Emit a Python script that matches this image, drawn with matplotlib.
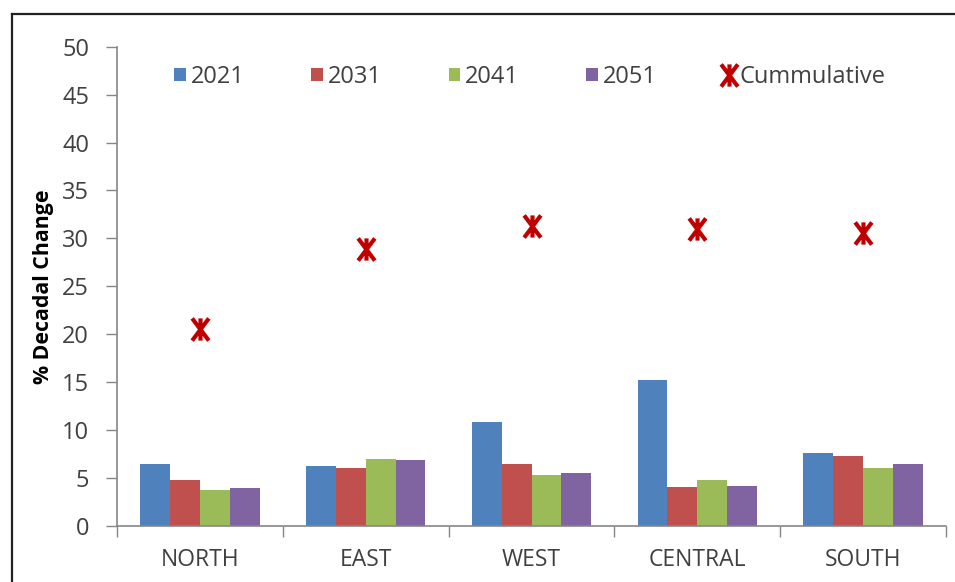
import matplotlib
matplotlib.use("Agg")
import matplotlib.pyplot as plt
import numpy as np
from matplotlib.path import Path
from matplotlib.lines import Line2D

regions = ["NORTH", "EAST", "WEST", "CENTRAL", "SOUTH"]
years = ["2021", "2031", "2041", "2051"]
v2021 = [6.5, 6.3, 10.9, 15.2, 7.6]
v2031 = [4.8, 6.0, 6.5, 4.1, 7.3]
v2041 = [3.8, 7.0, 5.3, 4.8, 6.1]
v2051 = [4.0, 6.9, 5.5, 4.2, 6.5]
cumulative = [20.6, 28.9, 31.3, 31.0, 30.6]
yticks = [0, 5, 10, 15, 20, 25, 30, 35, 40, 45, 50]

colors = ["#4F81BD", "#C0504D", "#9BBB59", "#8064A2"]
star_color = "#C00000"
font = "Open Sans"
text_color = "#404040"
axis_color = "#868686"

# asterisk-style marker: an X crossed by a vertical stroke
star = Path(
    [(-0.75, -1), (0.75, 1), (-0.75, 1), (0.75, -1), (0, -1), (0, 1)],
    [Path.MOVETO, Path.LINETO, Path.MOVETO, Path.LINETO, Path.MOVETO, Path.LINETO],
)

W, H = 955, 582
fig = plt.figure(figsize=(W / 100, H / 100), dpi=100)
ax = fig.add_axes([117 / W, 56 / H, (946 - 117) / W, (526 - 46.7) / H])

x = np.arange(len(regions))
bw = 0.18
series = [v2021, v2031, v2041, v2051]
handles = []
for i, (vals, c, lab) in enumerate(zip(series, colors, years)):
    handles.append(ax.bar(x + (i - 1.5) * bw, vals, width=bw, color=c, label=lab, zorder=2))

line, = ax.plot(x, cumulative, linestyle="none", marker=star, markersize=16,
                markeredgewidth=3.0, color=star_color, markeredgecolor=star_color,
                label="Cummulative", zorder=3)
handles.append(line)

ax.set_xlim(-0.5, len(regions) - 0.5)
ax.set_ylim(0, 50)
ax.set_yticks(yticks)
ax.set_yticklabels([str(t) for t in yticks], fontsize=17, family=font, color=text_color)

# category boundary ticks, labels centred between them
ax.set_xticks(np.arange(-0.5, len(regions), 1.0))
ax.set_xticklabels([])
ax.set_xticks(x, minor=True)
ax.set_xticklabels(regions, minor=True, fontsize=16.5, family=font, color=text_color)
ax.tick_params(axis="x", which="minor", length=0, pad=16)
ax.tick_params(axis="x", which="major", length=8, direction="out", color=axis_color, width=1)
ax.tick_params(axis="y", length=8, direction="out", color=axis_color, width=1, pad=12)

for s in ["top", "right"]:
    ax.spines[s].set_visible(False)
for s in ["left", "bottom"]:
    ax.spines[s].set_color(axis_color)
    ax.spines[s].set_linewidth(1.2)

ax.set_ylabel("% Decadal Change", fontsize=15.3, fontweight="bold", family=font,
              color="#000000", labelpad=6)

leg = ax.legend(handles=handles, labels=years + ["Cummulative"],
                loc="upper left", bbox_to_anchor=(174 / W, 1 - 65 / H),
                bbox_transform=fig.transFigure, ncol=5, frameon=False,
                prop={"family": font, "size": 17}, handlelength=0.5,
                handleheight=0.5, handletextpad=0.2, columnspacing=2.83,
                labelcolor=text_color, borderaxespad=0, borderpad=0)

# outer chart border (left and top edges visible)
fig.add_artist(Line2D([12 / W, 12 / W], [0, 1 - 14 / H], transform=fig.transFigure,
                      color="#222222", linewidth=1.6))
fig.add_artist(Line2D([12 / W, 1], [1 - 14 / H, 1 - 14 / H], transform=fig.transFigure,
                      color="#222222", linewidth=1.6))

fig.savefig("out.png", dpi=100)
